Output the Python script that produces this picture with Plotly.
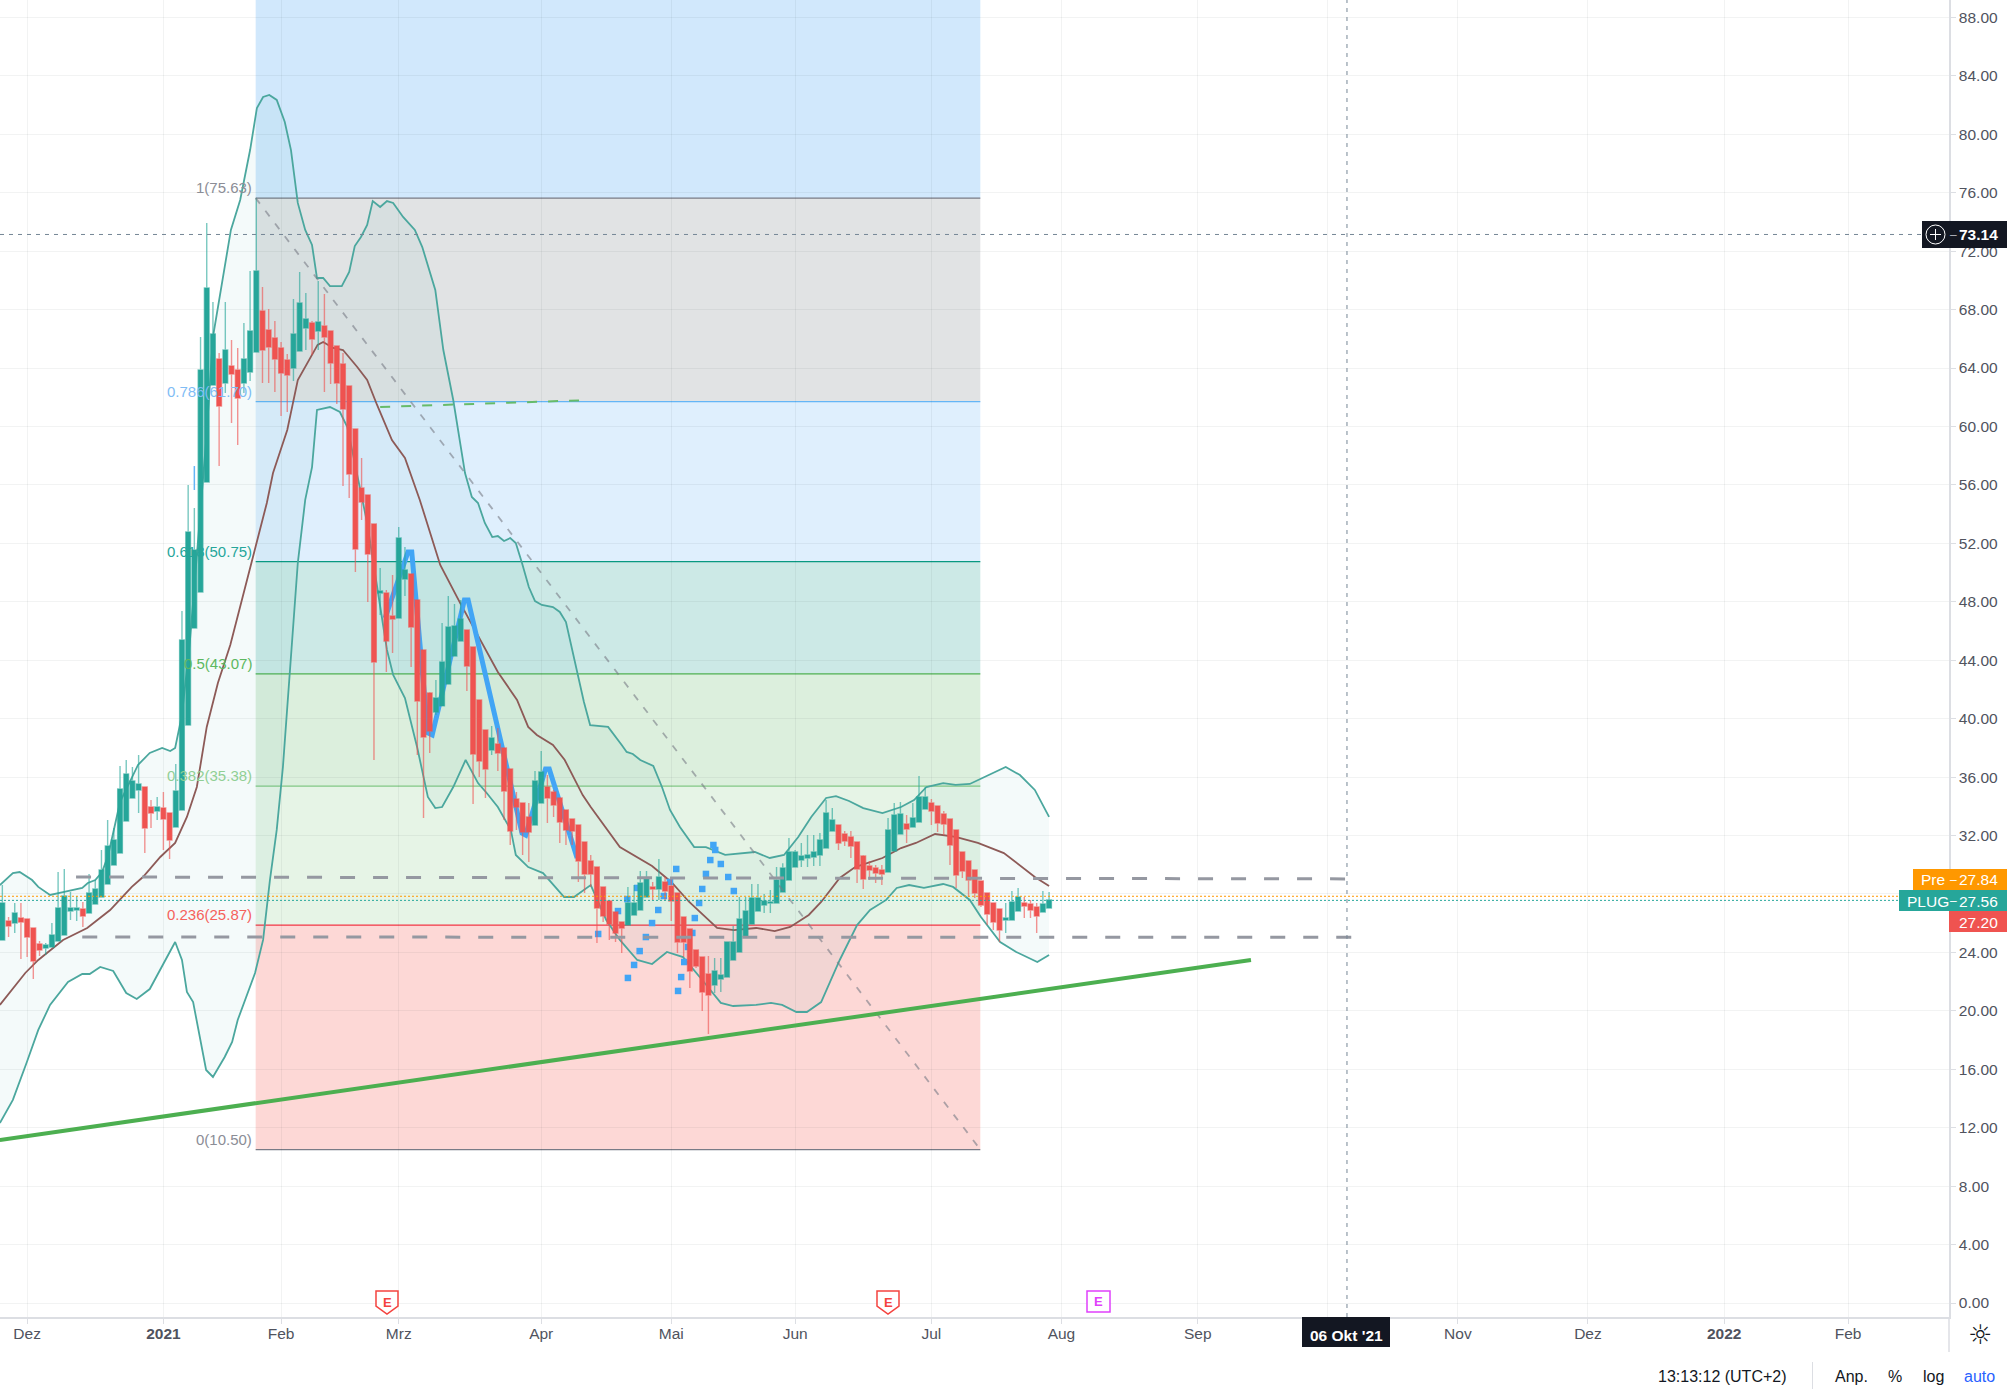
import plotly.graph_objects as go

# bar index 0 is the first session of 2021
bar_index = list(range(-26, 144))

candle_open = [
    24.85,26.15,26.01,26.35,26.28,25.67,24.57,24.30,24.37,24.78,
    25.19,26.83,26.90,26.97,26.70,27.31,27.79,28.68,29.98,30.80,
    32.99,34.57,35.12,35.32,33.95,33.68,33.88,33.54,32.58,33.75,
    39.56,46.20,48.67,56.20,62.84,64.62,62.97,64.14,63.86,62.97,
    63.73,65.10,67.90,66.60,66.05,65.37,64.55,64.00,65.16,66.74,
    67.08,66.53,66.88,66.53,65.51,64.28,62.77,59.83,55.79,55.31,
    53.32,48.60,48.60,47.03,46.89,49.56,49.90,48.12,44.70,41.75,
    40.45,40.87,42.37,44.29,45.31,46.07,44.90,41.28,39.22,37.85,
    38.26,37.99,36.55,34.50,34.23,33.27,32.72,34.23,35.32,34.98,
    34.57,33.75,33.13,32.72,31.56,30.25,29.84,28.48,27.52,26.76,
    26.08,25.87,26.56,26.90,27.79,28.48,28.34,28.82,28.54,28.06,
    26.42,25.60,24.16,23.68,22.52,21.77,22.18,22.31,23.48,24.03,
    25.12,25.94,26.83,27.24,27.38,27.38,28.13,28.95,29.84,30.32,
    30.46,30.53,30.67,31.14,32.31,32.72,32.10,31.90,31.56,30.60,
    29.91,29.78,29.64,29.50,30.94,32.10,32.79,32.58,32.92,33.81,
    34.23,34.02,33.47,33.13,32.38,30.87,30.25,29.64,28.89,28.06,
    27.38,26.97,26.22,26.22,26.83,27.38,27.31,27.11,26.76,27.04,
]
candle_high = [
    28.61,26.42,27.38,27.38,26.28,25.67,24.78,24.64,26.01,29.50,
    29.71,28.13,27.86,27.45,29.37,28.95,31.01,33.06,32.51,36.76,
    37.17,36.69,37.51,35.32,34.43,34.64,34.98,33.54,36.89,47.37,
    55.99,54.42,66.12,73.93,68.52,65.03,68.52,65.92,65.37,67.08,
    70.64,75.63,69.55,68.04,67.22,65.78,64.96,68.72,70.57,69.13,
    67.22,69.96,69.07,66.53,65.51,65.03,62.77,59.83,57.84,55.31,
    53.32,50.31,48.80,49.83,53.12,51.75,49.90,48.12,44.70,41.82,
    42.64,46.55,48.39,47.85,48.12,46.07,44.90,41.28,39.22,39.50,
    39.36,37.99,36.55,34.98,34.23,34.23,36.42,37.78,36.14,35.12,
    34.57,33.75,33.13,32.72,31.56,30.67,29.84,28.48,27.52,26.76,
    26.08,28.48,28.61,29.57,29.57,28.82,30.39,29.16,29.16,28.06,
    26.42,25.60,24.16,23.68,23.75,23.62,23.62,24.71,25.81,27.79,
    27.79,28.68,28.68,28.00,28.27,29.84,30.10,31.83,31.00,31.49,
    32.03,32.03,32.17,34.43,33.88,32.72,32.31,32.31,31.56,30.67,
    30.25,29.98,29.98,33.20,34.23,34.29,33.40,34.23,36.07,35.32,
    34.50,34.02,33.68,33.13,32.38,30.87,30.25,29.64,28.89,28.06,
    27.38,26.97,27.38,28.20,28.41,27.79,27.59,27.38,28.20,28.13,
]
candle_low = [
    24.85,25.05,25.33,23.55,23.68,22.18,23.75,23.82,24.37,24.78,
    25.19,26.22,26.15,25.74,26.70,27.31,27.79,28.68,29.98,30.80,
    32.99,34.57,33.54,30.80,32.51,33.06,31.01,30.39,32.58,33.75,
    39.56,46.20,48.67,56.20,62.84,57.29,62.29,60.24,58.73,62.29,
    63.11,65.10,62.97,62.97,62.36,60.72,60.99,63.11,65.16,65.23,
    64.89,65.23,62.36,62.91,61.54,55.92,55.10,50.04,53.60,47.98,
    37.17,47.09,43.19,44.49,46.89,48.39,43.53,37.51,33.20,37.65,
    40.25,40.87,42.37,44.29,45.31,41.89,34.16,36.00,34.57,37.51,
    36.42,33.06,31.35,32.38,30.67,30.19,32.72,34.23,32.86,33.27,
    31.49,31.35,31.35,28.82,28.06,28.48,24.64,26.08,24.85,24.71,
    23.96,25.87,26.56,26.90,27.79,27.59,27.59,27.59,26.15,23.96,
    23.68,21.56,22.93,19.99,18.41,21.22,21.29,22.31,23.48,24.03,
    25.12,25.94,26.83,26.70,26.70,27.38,28.13,28.95,29.84,29.84,
    29.84,29.91,29.91,31.14,32.31,31.01,31.28,30.46,28.75,28.34,
    28.95,28.75,28.61,29.50,30.94,32.10,31.49,32.58,32.92,33.81,
    32.72,32.24,32.03,29.98,28.41,29.09,27.79,27.72,27.11,25.87,
    25.53,24.71,25.33,26.22,26.83,26.35,26.35,25.33,26.76,27.04,
]
candle_close = [
    27.38,25.81,26.70,26.08,25.05,23.41,24.16,24.51,25.19,27.04,
    27.86,27.04,27.04,26.49,28.06,28.34,29.64,31.28,31.69,35.18,
    36.21,35.73,35.53,32.51,33.54,33.95,33.13,31.69,35.05,45.38,
    52.77,51.54,63.86,69.48,66.33,61.40,65.23,63.59,61.95,64.62,
    66.53,70.64,65.23,65.44,64.62,63.66,63.52,66.33,68.45,67.35,
    65.99,67.15,66.12,64.34,62.97,61.19,56.75,51.61,54.83,51.27,
    43.88,48.74,45.31,46.82,52.37,50.17,46.27,41.21,38.74,39.15,
    41.41,43.88,46.27,46.34,46.82,43.60,37.58,37.10,36.55,38.67,
    37.65,35.05,32.31,33.95,32.24,32.24,35.73,36.35,34.57,34.09,
    32.92,32.38,32.31,30.25,29.37,29.37,27.04,26.49,25.94,25.33,
    25.67,27.38,27.38,28.75,29.02,28.34,29.16,28.20,27.52,24.71,
    24.71,22.73,23.07,21.29,21.08,22.73,22.45,24.71,24.71,26.28,
    26.83,27.72,27.72,27.52,27.45,28.95,29.78,30.87,30.87,30.60,
    30.67,30.87,31.69,33.54,33.06,31.49,31.62,31.28,29.71,29.02,
    29.64,29.43,29.37,32.38,33.40,33.47,32.45,33.20,34.64,34.64,
    33.68,32.86,32.79,31.35,29.30,29.57,28.95,28.06,27.24,26.63,
    26.08,25.53,26.35,27.45,27.79,27.17,26.90,26.49,27.31,27.59,
]

upper_x = [-26.4,-24.3,-23.2,-21.2,-20.2,-18.3,-16.2,-13.1,-12.2,-11.0,-9.9,-8.9,-7.0,-5.1,-4.1,-2.2,-0.2,1.1,1.9,3.0,4.3,5.9,7.0,8.0,10.1,10.9,12.4,14.0,15.1,16.1,17.1,18.3,19.6,20.6,21.7,22.9,24.0,24.8,25.8,26.9,28.8,30.0,30.9,31.9,32.9,33.8,35.0,36.1,37.1,38.7,40.6,41.8,43.9,45.2,46.8,48.7,49.8,50.8,51.9,53.1,54.0,55.0,56.0,56.9,57.9,59.0,60.0,61.1,62.9,64.0,65.0,66.9,67.9,68.9,71.8,74.0,74.8,75.8,77.0,79.1,80.5,81.8,83.4,85.7,87.6,90.7,95.5,97.9,100.2,102.5,104.6,107.0,108.6,110.7,113.0,116.1,119.1,121.2,123.2,125.9,127.9,130.2,133.9,136.0,138.3,140.7,143.0]
upper_y = [28.61,29.43,29.50,28.95,28.48,27.93,28.13,28.41,28.75,28.95,29.50,30.67,34.29,35.94,36.83,37.65,37.99,37.78,37.99,40.25,45.38,53.80,59.55,66.12,71.60,73.45,75.50,78.92,81.80,82.55,82.69,82.35,80.84,78.92,75.30,73.45,72.42,70.16,70.16,69.61,69.61,70.57,72.35,72.97,73.79,75.43,75.02,75.43,75.30,74.34,73.45,72.28,69.34,65.23,61.81,56.81,55.17,54.76,53.39,52.43,52.50,52.16,52.36,52.02,50.65,49.01,48.05,47.78,47.64,47.30,46.61,43.12,41.14,39.56,39.43,38.20,37.72,37.58,37.17,36.76,35.32,33.75,32.58,31.21,31.21,30.67,30.87,30.46,30.67,31.90,33.27,34.57,34.70,34.36,33.88,33.54,33.95,34.43,35.32,35.59,35.46,35.53,36.28,36.69,36.14,35.12,33.27]

lower_x = [-26.4,-24.3,-22.1,-20.2,-18.3,-15.4,-13.1,-11.9,-10.2,-8.1,-6.0,-4.3,-2.2,1.9,3.0,3.8,4.8,5.9,6.9,8.0,9.9,11.1,12.0,14.8,16.1,17.2,18.3,19.3,20.4,21.7,22.9,24.0,24.8,26.9,28.5,29.7,32.9,36.1,37.1,39.0,41.0,42.7,43.9,45.0,46.8,48.8,50.8,52.2,54.0,56.1,56.9,58.9,61.3,64.7,66.3,69.0,71.5,73.7,76.5,78.9,81.3,83.9,87.0,90.0,92.0,95.7,98.1,99.9,102.2,103.9,106.2,109.2,112.0,114.1,116.7,118.4,120.4,122.8,125.9,127.5,130.2,132.0,135.1,137.7,141.1,143.0]
lower_y = [12.32,13.90,16.43,18.69,20.40,21.97,22.52,22.52,23.00,22.73,21.22,20.81,21.49,24.71,23.48,21.29,20.60,18.21,15.95,15.47,16.84,17.87,19.37,22.59,24.85,28.95,32.38,36.69,43.12,50.65,54.97,57.22,61.13,61.33,60.99,59.96,53.39,44.70,42.99,41.41,37.99,34.64,33.88,33.95,35.32,37.17,35.59,34.91,33.95,32.38,30.67,29.84,29.43,27.79,27.79,28.61,26.22,24.85,23.48,23.20,24.03,23.68,22.11,20.54,20.33,20.40,20.54,20.40,19.92,19.92,20.60,23.48,25.87,26.90,27.59,28.41,28.61,28.41,28.68,28.48,27.59,26.42,24.71,24.03,23.34,23.82]

basis_x = [-26.4,-22.3,-20.2,-16.2,-12.3,-8.6,-5.1,-3.3,-0.5,1.9,3.8,5.4,7.0,8.8,10.8,14.5,16.7,17.7,20.0,21.7,23.7,24.9,25.8,27.4,29.0,31.3,32.9,34.5,36.9,39.0,41.4,44.7,47.9,51.4,54.0,57.1,58.9,60.3,62.9,64.8,67.7,69.0,73.7,78.9,82.0,84.9,89.4,92.1,95.7,98.7,101.2,104.2,106.2,109.2,111.7,116.1,119.1,121.5,124.6,127.9,131.5,135.7,140.7,143.0]
basis_y = [20.40,22.59,23.48,24.85,25.67,26.90,28.48,29.16,30.53,31.49,33.27,35.32,39.43,42.44,45.04,51.06,54.76,56.81,59.76,63.18,64.69,65.58,65.78,65.37,65.23,64.07,63.18,61.47,59.07,57.84,54.97,50.52,47.92,45.18,43.19,41.28,39.43,38.88,38.20,37.17,34.77,33.95,31.21,29.91,28.82,27.45,25.67,25.53,25.67,25.46,25.74,26.56,27.45,29.09,29.84,30.46,31.14,31.49,32.10,31.90,31.49,30.80,29.16,28.54]

# drawn tools
zigzag_x = [35.8,39.5,40.1,42.7,43.4,48.6,49.2,57.9,58.5,61.7,62.3,66.8]
zigzag_y = [46.89,51.41,51.41,39.02,38.88,48.12,48.12,32.17,32.03,36.55,36.55,30.46]
dots_x = [70.2,73.4,74.9,76.5,75.0,76.0,76.9,77.9,78.9,79.9,80.8,81.8,82.8,83.1,83.6,84.1,84.7,85.4,85.8,86.5,87.0,87.6,88.3,88.8,89.1,90.0,91.2,92.1]
dots_y = [25.26,26.83,27.65,28.41,22.25,23.14,24.09,25.05,26.01,26.90,27.86,28.82,29.71,21.36,22.31,23.34,24.37,25.33,26.35,27.38,28.34,29.37,30.32,31.35,31.01,30.05,29.16,28.20]
trend_x = [-26.4, 175.6]
trend_y = [11.16, 23.48]
resist_x = [-14.1, 191.6]
resist_y = [29.16, 29.03]
support_x = [-13.1, 191.9]
support_y = [25.05, 25.03]
short_x = [35.0, 68.3]
short_y = [61.33, 61.80]

fib_x = [14.9, 131.9]
fib_levels = [75.63, 61.70, 50.75, 43.07, 35.38, 25.87, 10.50]
fib_names = ["1", "0.786", "0.618", "0.5", "0.382", "0.236", "0"]
fib_line_colors = ["#787b86", "#64b5f6", "#089981", "#4caf50", "#81c784", "#f23645", "#787b86"]
fib_text_colors = ["#8b8d96", "#7fbdf5", "#26a69a", "#5cb860", "#90cf94", "#f4625c", "#8b8d96"]
fib_fills = ["#e1e3e4", "#dfeffd", "#cce9e6", "#dcefdd", "#e6f4e6", "#fdd8d6"]
fib_top_fill = "#d1e8fc"

y_ticks = list(range(0, 92, 4))
y_labels = ["" if t == 28 else "%.2f" % t for t in y_ticks]  # 28.00 sits under the price tags
x_ticks = [-22, 0, 19, 38, 61, 82, 102, 124, 145, 167, 188, 209, 230, 252, 272]
x_labels = ["Dez", "<b>2021</b>", "Feb", "Mrz", "Apr", "Mai", "Jun", "Jul", "Aug", "Sep", "", "Nov", "Dez", "<b>2022</b>", "Feb"]

x_range = [-26.38, 288.3]
y_range = [-0.958, 89.19]
cross_price = 73.14
cross_bar = 191.1
pre_price = 27.84
last_price = 27.56

GREEN = "#26a69a"
RED = "#ef5350"
FONT = "Liberation Sans"
TEXT = "#50535e"
AXIS = "#dcdee3"


def px(x):
    return x / 1949


def py(y):
    return (1317 - y) / 1317


fig = go.Figure()

# lower layer: bands and drawings, the candles go over them
fig.add_trace(go.Scatter(x=upper_x, y=upper_y, mode="lines", line=dict(color="#4ba79e", width=1.8)))
fig.add_trace(go.Scatter(x=lower_x, y=lower_y, mode="lines", line=dict(color="#4ba79e", width=1.8),
                         fill="tonexty", fillcolor="rgba(38,166,154,0.05)"))
fig.add_trace(go.Scatter(x=basis_x, y=basis_y, mode="lines", line=dict(color="#8d5a57", width=1.8)))
fig.add_trace(go.Scatter(x=zigzag_x, y=zigzag_y, mode="lines", line=dict(color="#42a5f5", width=5)))
fig.add_trace(go.Scatter(x=dots_x, y=dots_y, mode="markers",
                         marker=dict(symbol="square", color="#42a5f5", size=6.5)))
fig.add_trace(go.Scatter(x=[5, 5], y=[57.29, 55.65], mode="lines", line=dict(color="#64b5f6", width=1.5)))

# upper layer on a second axis pair
fig.add_trace(go.Candlestick(
    x=bar_index, open=candle_open, high=candle_high, low=candle_low, close=candle_close,
    xaxis="x2", yaxis="y2",
    increasing=dict(fillcolor=GREEN, line=dict(color="rgba(38,166,154,0.62)", width=1.4)),
    decreasing=dict(fillcolor=RED, line=dict(color="rgba(239,83,80,0.62)", width=1.4)),
))
fig.add_trace(go.Scatter(x=fib_x, y=[fib_levels[0], fib_levels[-1]], mode="lines", xaxis="x2", yaxis="y2",
                         line=dict(color="rgba(120,123,134,0.6)", width=1.8, dash="7px,9px")))
fig.add_trace(go.Scatter(x=short_x, y=short_y, mode="lines", xaxis="x2", yaxis="y2",
                         line=dict(color="#66bb6a", width=2, dash="10px,11px")))
fig.add_trace(go.Scatter(x=trend_x, y=trend_y, mode="lines", xaxis="x2", yaxis="y2",
                         line=dict(color="#4caf50", width=4)))
for xs, ys in [(resist_x, resist_y), (support_x, support_y)]:
    fig.add_trace(go.Scatter(x=xs, y=ys, mode="lines", xaxis="x2", yaxis="y2",
                             line=dict(color="#9598a1", width=3, dash="15px,18px")))
fig.add_trace(go.Scatter(x=x_range, y=[pre_price, pre_price], mode="lines", xaxis="x2", yaxis="y2",
                         line=dict(color="#ff9800", width=1, dash="2px,2px")))
fig.add_trace(go.Scatter(x=x_range, y=[last_price, last_price], mode="lines", xaxis="x2", yaxis="y2",
                         line=dict(color=GREEN, width=1, dash="2px,2px")))
fig.add_trace(go.Scatter(x=x_range, y=[cross_price, cross_price], mode="lines", xaxis="x2", yaxis="y2",
                         line=dict(color="#758696", width=1, dash="4px,5px")))
fig.add_trace(go.Scatter(x=[cross_bar, cross_bar], y=y_range, mode="lines", xaxis="x2", yaxis="y2",
                         line=dict(color="#758696", width=1, dash="4px,5px")))

shapes = []
# fib zones
shapes.append(dict(type="rect", layer="below", xref="x", yref="y", x0=fib_x[0], x1=fib_x[1],
                   y0=fib_levels[0], y1=y_range[1], fillcolor=fib_top_fill, line_width=0))
for i, fill in enumerate(fib_fills):
    shapes.append(dict(type="rect", layer="below", xref="x", yref="y", x0=fib_x[0], x1=fib_x[1],
                       y0=fib_levels[i + 1], y1=fib_levels[i], fillcolor=fill, line_width=0))
for level, color in zip(fib_levels, fib_line_colors):
    shapes.append(dict(type="line", layer="below", xref="x", yref="y", x0=fib_x[0], x1=fib_x[1],
                       y0=level, y1=level, line=dict(color=color, width=1.2)))

# earnings flags
for cx, color in [(387, "#f4433f"), (888, "#f4433f")]:
    path = "M %f %f L %f %f L %f %f L %f %f L %f %f L %f %f Z" % (
        px(cx - 11), py(1291), px(cx + 11), py(1291), px(cx + 11), py(1306),
        px(cx), py(1314), px(cx - 11), py(1306), px(cx - 11), py(1291))
    shapes.append(dict(type="path", xref="paper", yref="paper", path=path, fillcolor="white",
                       line=dict(color=color, width=1.5), layer="above"))
shapes.append(dict(type="rect", xref="paper", yref="paper", x0=px(1087), x1=px(1110), y0=py(1312), y1=py(1291),
                   fillcolor="white", line=dict(color="#e040fb", width=1.5), layer="above"))

# scale boxes
box_list = [(1922, 2007, 221, 248, "#131722"), (1913, 2007, 869, 890, "#ff9800"),
            (1899, 2007, 890, 911, GREEN), (1949, 2007, 911, 932, RED),
            (1302, 1390, 1317, 1347, "#131722")]
for x0, x1, y0, y1, color in box_list:
    shapes.append(dict(type="rect", xref="paper", yref="paper", x0=px(x0), x1=px(x1), y0=py(y1), y1=py(y0),
                       fillcolor=color, line_width=0, layer="above"))

# bottom bar rules
shapes.append(dict(type="line", xref="paper", yref="paper", x0=1, x1=1, y0=py(1317), y1=py(1352),
                   line=dict(color=AXIS, width=1.5)))
shapes.append(dict(type="line", xref="paper", yref="paper", x0=px(1812.5), x1=px(1812.5), y0=py(1362), y1=py(1389),
                   line=dict(color=AXIS, width=1)))
# crosshair circle on the price tag
shapes.append(dict(type="circle", xref="paper", yref="paper", x0=px(1926), x1=px(1945), y0=py(244), y1=py(225),
                   line=dict(color="white", width=1)))
shapes.append(dict(type="line", xref="paper", yref="paper", x0=px(1930), x1=px(1941), y0=py(234.5), y1=py(234.5),
                   line=dict(color="white", width=1)))
shapes.append(dict(type="line", xref="paper", yref="paper", x0=px(1935.5), x1=px(1935.5), y0=py(229), y1=py(240),
                   line=dict(color="white", width=1)))

annotations = []
for name, level, color in zip(fib_names, fib_levels, fib_text_colors):
    annotations.append(dict(x=px(252), y=py(1303 - level * 14.61 - 2), xref="paper", yref="paper",
                            text="%s(%.2f)" % (name, level), showarrow=False, xanchor="right", yanchor="bottom",
                            font=dict(family=FONT, size=15, color=color), borderpad=0, borderwidth=0))


def add_text(cx, cy, text, size=15.5, color="#131722", anchor="center", family=FONT):
    annotations.append(dict(x=px(cx), y=py(cy), xref="paper", yref="paper", text=text, showarrow=False,
                            xanchor=anchor, yanchor="middle", font=dict(family=family, size=size, color=color)))


add_text(2000, 235, "<b>%.2f</b>" % cross_price, color="white", anchor="right")
add_text(1953, 235, "–", size=12, color="#b2b5be")
add_text(1919, 880, "Pre", color="white", anchor="left")
add_text(1953, 880, "–", size=12, color="white")
add_text(2000, 880, "%.2f" % pre_price, color="white", anchor="right")
add_text(1905, 901, "PLUG", color="white", anchor="left")
add_text(1953, 901, "–", size=12, color="white")
add_text(2000, 901, "%.2f" % last_price, color="white", anchor="right")
add_text(2000, 922, "27.20", color="white", anchor="right")
add_text(1346, 1335, "<b>06 Okt '21</b>", color="white")
add_text(387, 1302, "<b>E</b>", size=13, color="#f4433f")
add_text(888, 1302, "<b>E</b>", size=13, color="#f4433f")
add_text(1098, 1301, "<b>E</b>", size=13, color="#e040fb")
add_text(1980, 1334, "☼", size=27, family="DejaVu Sans")
add_text(1722, 1376, "13:13:12 (UTC+2)", size=16)
add_text(1851, 1376, "Anp.", size=16)
add_text(1895, 1376, "%", size=16)
add_text(1933, 1376, "log", size=16)
add_text(1980, 1376, "auto", size=16, color="#2962ff")

grid = "rgba(42,46,57,0.06)"
fig.update_layout(
    width=2011,
    height=1399,
    autosize=False,
    margin=dict(l=0, r=62, t=0, b=82),
    paper_bgcolor="white",
    plot_bgcolor="white",
    showlegend=False,
    hovermode=False,
    boxgap=0.24,
    boxgroupgap=0,
    shapes=shapes,
    annotations=annotations,
    font=dict(family=FONT, size=15, color=TEXT),
    xaxis=dict(range=x_range, tickmode="array", tickvals=x_ticks, ticktext=x_labels, showgrid=True, gridcolor=grid,
               zeroline=False, ticks="outside", ticklen=5, tickcolor=AXIS, showline=True, linecolor=AXIS, linewidth=1.5,
               rangeslider=dict(visible=False), tickfont=dict(size=15.5, color=TEXT), ticklabelstandoff=-3),
    yaxis=dict(range=y_range, side="right", tickmode="array", tickvals=y_ticks, ticktext=y_labels, showgrid=True,
               gridcolor=grid, zeroline=False, ticks="outside", ticklen=5, tickcolor=AXIS, showline=True,
               linecolor=AXIS, linewidth=1.5, tickfont=dict(size=15.5, color=TEXT)),
    xaxis2=dict(range=x_range, overlaying="x", matches="x", visible=False, rangeslider=dict(visible=False)),
    yaxis2=dict(range=y_range, overlaying="y", matches="y", visible=False, side="right"),
)

# page margin off so the figure fills the window from its corner
fig.write_html("out.html", config={"displayModeBar": False}, post_script="document.body.style.margin='0';")
